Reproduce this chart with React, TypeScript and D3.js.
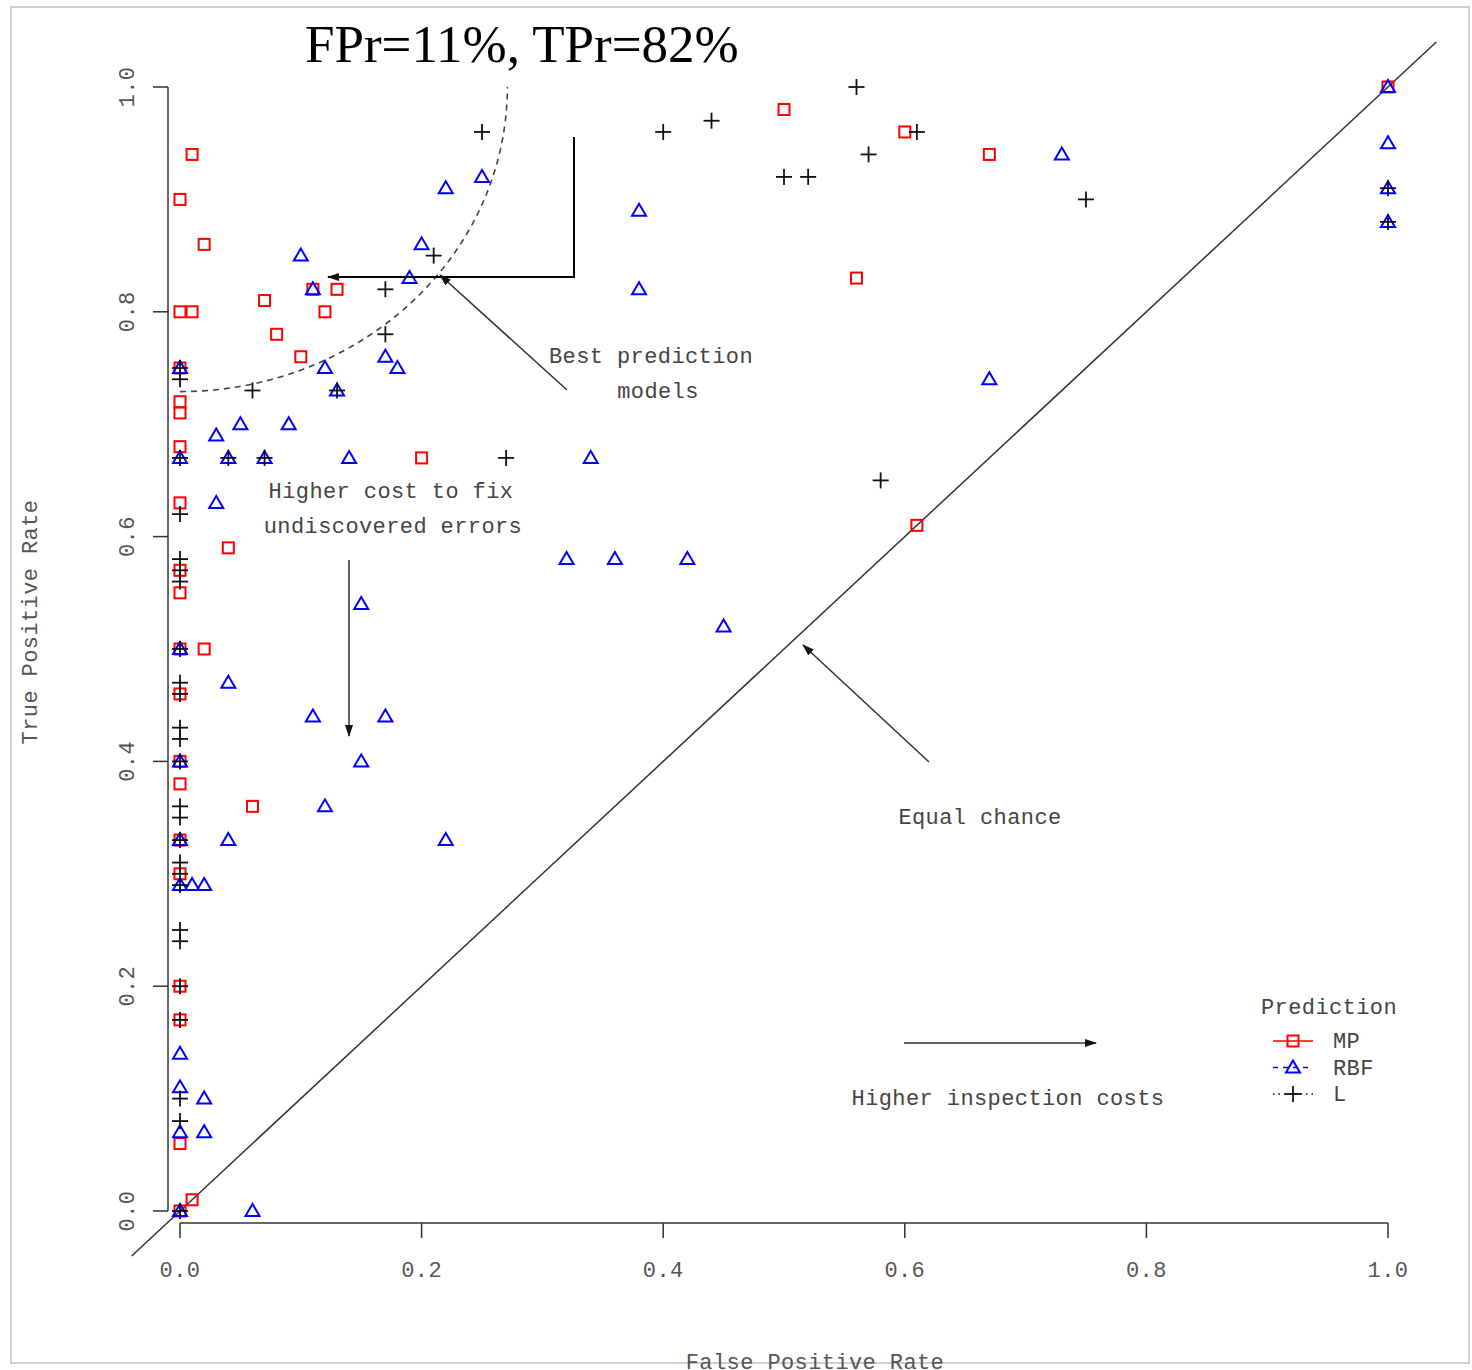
import React from "react";
import * as d3 from "d3";

// ---- Data (FPR, TPR) ----
const mpPoints: [number, number][] = [
  [0.01, 0.94], [0, 0.9], [0.02, 0.86], [0, 0.8], [0.01, 0.8], [0.07, 0.81], [0.11, 0.82],
  [0.13, 0.82], [0.12, 0.8], [0.08, 0.78], [0.1, 0.76], [0, 0.75], [0, 0.72], [0, 0.71],
  [0, 0.68], [0.2, 0.67], [0, 0.63], [0.04, 0.59], [0, 0.57], [0, 0.55], [0.02, 0.5],
  [0, 0.5], [0, 0.46], [0, 0.4], [0, 0.38], [0.06, 0.36], [0, 0.33], [0, 0.3], [0, 0.2],
  [0, 0.17], [0, 0.06], [0.01, 0.01], [0, 0], [0.5, 0.98], [0.6, 0.96], [0.56, 0.83],
  [0.67, 0.94], [0.61, 0.61], [1.0, 1.0],
];

const rbfPoints: [number, number][] = [
  [0.1, 0.85], [0.11, 0.82], [0.22, 0.91], [0.25, 0.92], [0.2, 0.86], [0.19, 0.83],
  [0.12, 0.75], [0.17, 0.76], [0.18, 0.75], [0.13, 0.73], [0, 0.75], [0.03, 0.69],
  [0.05, 0.7], [0.09, 0.7], [0, 0.67], [0.04, 0.67], [0.07, 0.67], [0.14, 0.67],
  [0.34, 0.67], [0.03, 0.63], [0.38, 0.89], [0.38, 0.82], [0.73, 0.94], [0.67, 0.74],
  [0.32, 0.58], [0.36, 0.58], [0.42, 0.58], [0.45, 0.52], [0.15, 0.54], [0, 0.5],
  [0.04, 0.47], [0.11, 0.44], [0.17, 0.44], [0.15, 0.4], [0, 0.4], [0.12, 0.36],
  [0.04, 0.33], [0.22, 0.33], [0, 0.33], [0, 0.29], [0.01, 0.29], [0.02, 0.29],
  [0, 0.14], [0, 0.11], [0.02, 0.1], [0, 0.07], [0.02, 0.07], [0.06, 0], [0, 0],
  [1.0, 1.0], [1.0, 0.95], [1.0, 0.91], [1.0, 0.88],
];

const lPoints: [number, number][] = [
  [0.25, 0.96], [0.21, 0.85], [0.17, 0.82], [0.17, 0.78], [0.06, 0.73], [0.13, 0.73],
  [0, 0.75], [0, 0.74], [0, 0.67], [0.04, 0.67], [0.07, 0.67], [0.27, 0.67], [0, 0.62],
  [0, 0.58], [0, 0.57], [0, 0.56], [0, 0.5], [0, 0.47], [0, 0.46], [0, 0.43], [0, 0.42],
  [0, 0.4], [0, 0.36], [0, 0.35], [0, 0.33], [0, 0.31], [0, 0.3], [0, 0.29], [0, 0.25],
  [0, 0.24], [0, 0.2], [0, 0.17], [0, 0.1], [0, 0.08], [0, 0],
  [0.4, 0.96], [0.44, 0.97], [0.56, 1.0], [0.5, 0.92], [0.52, 0.92], [0.57, 0.94],
  [0.61, 0.96], [0.75, 0.9], [0.58, 0.65], [1.0, 0.91], [1.0, 0.88],
];

const tickValues = [0, 0.2, 0.4, 0.6, 0.8, 1.0];
const legendLabels = ["MP", "RBF", "L"];
const titleText = "FPr=11%, TPr=82%";
const curveCenter: [number, number] = [0, 1.0];
const curveRadius = 0.271;

const MONO = "'Liberation Mono', 'DejaVu Sans Mono', monospace";
const TXT = "#444";
const FS = 22;
const LS = 0.4;

function Square({ cx, cy }: { cx: number; cy: number }) {
  return <rect x={cx - 5.5} y={cy - 5.5} width={11} height={11} fill="none" stroke="#ff0000" strokeWidth={2} />;
}
function Tri({ cx, cy }: { cx: number; cy: number }) {
  const p = `${cx - 7},${cy + 5} ${cx + 7},${cy + 5} ${cx},${cy - 7}`;
  return <polygon points={p} fill="none" stroke="#0000ff" strokeWidth={2} />;
}
function Plus({ cx, cy }: { cx: number; cy: number }) {
  return (
    <g stroke="#111" strokeWidth={1.8}>
      <line x1={cx - 8} x2={cx + 8} y1={cy} y2={cy} />
      <line x1={cx} x2={cx} y1={cy - 8} y2={cy + 8} />
    </g>
  );
}

export default function App() {
  const x = d3.scaleLinear().domain([0, 1]).range([180, 1388]);
  const y = d3.scaleLinear().domain([0, 1]).range([1211, 87]);

  const arcPts: [number, number][] = d3.range(0, 91, 1).map((deg) => {
    const t = (deg * Math.PI) / 180;
    return [curveCenter[0] + curveRadius * Math.sin(t), curveCenter[1] - curveRadius * Math.cos(t)];
  });
  const arcPath = d3.line<[number, number]>().x((d) => x(d[0])).y((d) => y(d[1]))(arcPts) || "";

  return (
    <svg width={1472} height={1370} style={{ position: "absolute", left: 0, top: 0, background: "#fff" }}>
      <defs>
        <marker id="ah" viewBox="0 0 12 8" refX={11} refY={4} markerWidth={12} markerHeight={8} markerUnits="userSpaceOnUse" orient="auto">
          <path d="M0,0 L12,4 L0,8 Z" fill="#111" />
        </marker>
      </defs>
      <rect x={11} y={7} width={1458} height={1356} fill="#fff" stroke="#cfcfcf" strokeWidth={2} />

      <text x={305} y={62} fontFamily="'Liberation Serif', 'Times New Roman', serif" fontSize={53} fill="#000">{titleText}</text>

      {/* axes */}
      <line x1={168} x2={168} y1={y(1)} y2={y(0)} stroke="#333" strokeWidth={1.5} />
      {tickValues.map((t) => (
        <g key={"yt" + t}>
          <line x1={153} x2={168} y1={y(t)} y2={y(t)} stroke="#333" strokeWidth={1.5} />
          <text transform={`translate(134,${y(t)}) rotate(-90)`} textAnchor="middle" fontFamily={MONO} fontSize={FS} letterSpacing={LS} fill="#555">{t.toFixed(1)}</text>
        </g>
      ))}
      <line x1={x(0)} x2={x(1)} y1={1223} y2={1223} stroke="#333" strokeWidth={1.5} />
      {tickValues.map((t) => (
        <g key={"xt" + t}>
          <line x1={x(t)} x2={x(t)} y1={1223} y2={1238} stroke="#333" strokeWidth={1.5} />
          <text x={x(t)} y={1277} textAnchor="middle" fontFamily={MONO} fontSize={FS} letterSpacing={LS} fill="#555">{t.toFixed(1)}</text>
        </g>
      ))}
      <text transform={`translate(37,622) rotate(-90)`} textAnchor="middle" fontFamily={MONO} fontSize={FS} letterSpacing={LS} fill="#555">True Positive Rate</text>
      <text x={815} y={1369} textAnchor="middle" fontFamily={MONO} fontSize={FS} letterSpacing={LS} fill="#555">False Positive Rate</text>

      {/* diagonal */}
      <line x1={x(-0.04)} y1={y(-0.04)} x2={x(1.04)} y2={y(1.04)} stroke="#333" strokeWidth={1.5} />

      {/* dashed curve */}
      <path d={arcPath} fill="none" stroke="#444" strokeWidth={1.6} strokeDasharray="6,5" />

      {/* points */}
      {mpPoints.map((p, i) => <Square key={"m" + i} cx={x(p[0])} cy={y(p[1])} />)}
      {rbfPoints.map((p, i) => <Tri key={"r" + i} cx={x(p[0])} cy={y(p[1])} />)}
      {lPoints.map((p, i) => <Plus key={"l" + i} cx={x(p[0])} cy={y(p[1])} />)}

      {/* annotations */}
      <polyline points="574,137 574,277 328,277" fill="none" stroke="#000" strokeWidth={2} markerEnd="url(#ah)" />
      <line x1={567} y1={390} x2={440} y2={275} stroke="#333" strokeWidth={1.5} markerEnd="url(#ah)" />
      <line x1={349} y1={560} x2={349} y2={736} stroke="#333" strokeWidth={1.5} markerEnd="url(#ah)" />
      <line x1={929} y1={762} x2={803} y2={645} stroke="#333" strokeWidth={1.5} markerEnd="url(#ah)" />
      <line x1={904} y1={1043} x2={1096} y2={1043} stroke="#333" strokeWidth={1.5} markerEnd="url(#ah)" />

      <g fontFamily={MONO} fontSize={FS} letterSpacing={LS} fill={TXT} textAnchor="middle">
        <text x={651} y={363}>Best prediction</text>
        <text x={658} y={398}>models</text>
        <text x={391} y={498}>Higher cost to fix</text>
        <text x={393} y={533}>undiscovered errors</text>
        <text x={980} y={824}>Equal chance</text>
        <text x={1008} y={1105}>Higher inspection costs</text>
      </g>

      {/* legend */}
      <g fontFamily={MONO} fontSize={FS} letterSpacing={LS} fill={TXT}>
        <text x={1261} y={1014}>Prediction</text>
        {legendLabels.map((lab, i) => {
          const ly = 1041 + i * 26.5;
          return (
            <g key={lab}>
              {i === 0 && <line x1={1273} x2={1313} y1={ly} y2={ly} stroke="#ff0000" strokeWidth={1.5} />}
              {i === 1 && <line x1={1273} x2={1313} y1={ly} y2={ly} stroke="#0000ff" strokeWidth={1.5} strokeDasharray="5,5" />}
              {i === 2 && <line x1={1273} x2={1313} y1={ly} y2={ly} stroke="#111" strokeWidth={1.5} strokeDasharray="1.5,4" />}
              {i === 0 && <Square cx={1293} cy={ly} />}
              {i === 1 && <Tri cx={1293} cy={ly} />}
              {i === 2 && <Plus cx={1293} cy={ly} />}
              <text x={1333} y={ly + 7}>{lab}</text>
            </g>
          );
        })}
      </g>
    </svg>
  );
}
